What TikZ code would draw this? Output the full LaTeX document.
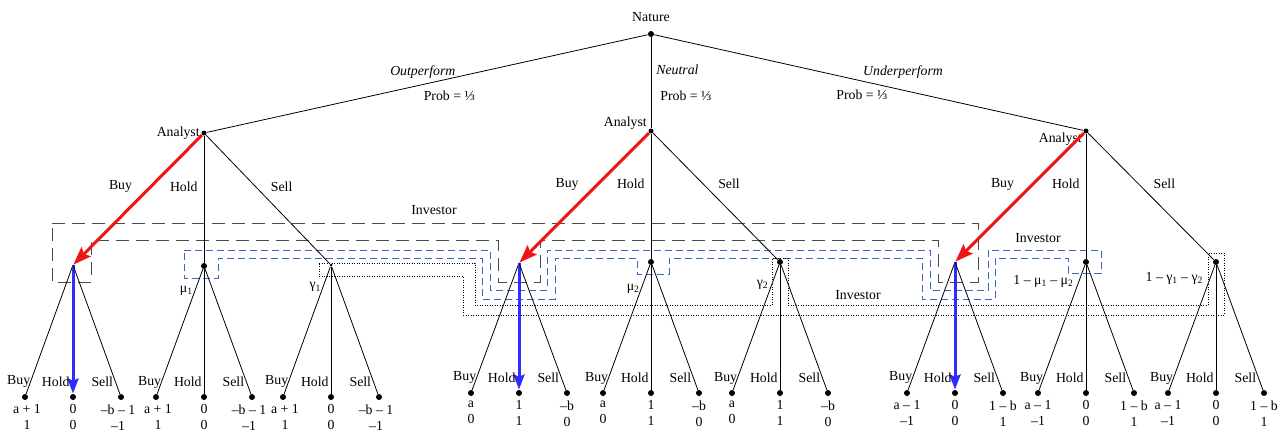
\documentclass[tikz,border=0pt]{standalone}
\usepackage{fontspec}
\setmainfont{Liberation Serif}
\usetikzlibrary{positioning}
\usetikzlibrary{arrows.meta}

\definecolor{movered}{RGB}{240,20,20}
\definecolor{moveblue}{RGB}{45,45,255}
\definecolor{setblue}{RGB}{60,100,195}

\begin{document}
\begin{tikzpicture}[x=1pt,y=-1pt,line width=0.8pt,node distance=48pt,
	font=\fontsize{13.8}{16}\selectfont,
	main node/.style={circle,fill,inner sep=0pt,minimum size=6pt},
	analyst node/.style={main node,minimum size=5pt},
	small node/.style={circle,fill,inner sep=0pt,minimum size=3pt},
	move node/.style={inner sep=0pt,minimum size=0pt},
	red move/.style={-{Stealth[length=18pt,width=13pt,inset=3pt]},draw=movered,line width=3pt},
	blue move/.style={-{Stealth[length=15pt,width=11pt,inset=2pt]},draw=moveblue,line width=3pt},
	long set/.style={draw=black!70,line width=1pt,dash pattern=on 13pt off 7pt},
	blue set/.style={draw=setblue,line width=1pt,dash pattern=on 7pt off 4pt},
	dot set/.style={draw=black,line width=0.8pt,dash pattern=on 1pt off 1.5pt},
	leaf label/.style={pos=0.905,left=2pt,inner sep=0pt},
	payoff/.style={align=center,inner sep=0pt,label distance=4pt},
	belief/.style={yshift=-5pt}]

	\useasboundingbox (0,0) rectangle (1282,431);

	% information sets of the investor
	\draw[long set] (52,223) -- (978,223) -- (978,282) -- (938,282) -- (938,240)
		-- (540,240) -- (540,282) -- (498,282) -- (498,240) -- (91,240)
		-- (91,282) -- (52,282) -- cycle;
	\draw[blue set] (184,250) -- (490,250) -- (490,290) -- (547,290) -- (547,250)
		-- (930,250) -- (930,290) -- (988,290) -- (988,250) -- (1101,250)
		-- (1101,273) -- (1068,273) -- (1068,258) -- (995,258) -- (995,299)
		-- (922,299) -- (922,258) -- (669,258) -- (669,274) -- (637,274)
		-- (637,258) -- (555,258) -- (555,299) -- (482,299) -- (482,258)
		-- (218,258) -- (218,278) -- (184,278) -- cycle;
	\draw[dot set] (319,263) -- (475,263) -- (475,305) -- (772,305) -- (772,258)
		-- (788,258) -- (788,305) -- (1208,305) -- (1208,253) -- (1224,253)
		-- (1224,315) -- (463,315) -- (463,276) -- (319,276) -- cycle;
	\node (inv-long) at (434,210) {Investor};
	\node (inv-blue) at (1038,238) {Investor};
	\node (inv-dot) at (858,295) {Investor};

	% nature and analyst
	\node[main node,label={[label distance=5pt]above:Nature}] (nat) at (651,34) {};
	\node[analyst node,label={[inner sep=1pt]left:Analyst}] (out) at (204,133) {};
	\node[analyst node,label={[inner sep=1pt]171:Analyst}] (neu) at (651,131) {};
	\node[analyst node,label={[inner sep=1pt]195:Analyst}] (und) at (1086,131) {};

	% investor
	\node[move node] (out-b) at (73,265) {};
	\node[main node,label={[belief,label distance=10pt]235:μ\textsubscript{1}}] (out-h) at (204,266) {};
	\node[small node,label={[belief,label distance=9pt]235:γ\textsubscript{1}}] (out-s) at (331,265) {};
	\node[move node] (neu-b) at (519,263) {};
	\node[main node,label={[belief,label distance=12pt]240:μ\textsubscript{2}}] (neu-h) at (651,262) {};
	\node[main node,label={[belief,label distance=9pt]230:γ\textsubscript{2}}] (neu-s) at (780,262) {};
	\node[move node] (und-b) at (955,262) {};
	\node[main node,label={[belief,yshift=-1pt,label distance=6pt]200:1 – μ\textsubscript{1} – μ\textsubscript{2}}] (und-h) at (1086,262) {};
	\node[main node,label={[belief,label distance=6pt]190:1 – γ\textsubscript{1} – γ\textsubscript{2}}] (und-s) at (1216,262) {};

	% outcomes after outperform
	\node[main node,node distance=132pt,label={[payoff]below:{0\\0}}] (out-b-h) [below of=out-b] {};
	\node[main node,label={[payoff,xshift=2pt]below:{a + 1\\1}}] (out-b-b) [left of=out-b-h] {};
	\node[main node,label={[payoff,xshift=-3pt]below:{–b – 1\\–1}}] (out-b-s) [right of=out-b-h] {};
	\node[main node,node distance=131pt,label={[payoff]below:{0\\0}}] (out-h-h) [below of=out-h] {};
	\node[main node,label={[payoff,xshift=2pt]below:{a + 1\\1}}] (out-h-b) [left of=out-h-h] {};
	\node[main node,label={[payoff,xshift=-3pt]below:{–b – 1\\–1}}] (out-h-s) [right of=out-h-h] {};
	\node[main node,node distance=132pt,label={[payoff]below:{0\\0}}] (out-s-h) [below of=out-s] {};
	\node[main node,label={[payoff,xshift=2pt]below:{a + 1\\1}}] (out-s-b) [left of=out-s-h] {};
	\node[main node,label={[payoff,xshift=-3pt]below:{–b – 1\\–1}}] (out-s-s) [right of=out-s-h] {};

	% outcomes after neutral
	\node[main node,node distance=130pt,label={[payoff]below:{1\\1}}] (neu-b-h) [below of=neu-b] {};
	\node[main node,label={[payoff]below:{a\\0}}] (neu-b-b) [left of=neu-b-h] {};
	\node[main node,label={[payoff]below:{–b\\0}}] (neu-b-s) [right of=neu-b-h] {};
	\node[main node,node distance=131pt,label={[payoff]below:{1\\1}}] (neu-h-h) [below of=neu-h] {};
	\node[main node,label={[payoff]below:{a\\0}}] (neu-h-b) [left of=neu-h-h] {};
	\node[main node,label={[payoff]below:{–b\\0}}] (neu-h-s) [right of=neu-h-h] {};
	\node[main node,node distance=131pt,label={[payoff]below:{1\\1}}] (neu-s-h) [below of=neu-s] {};
	\node[main node,label={[payoff]below:{a\\0}}] (neu-s-b) [left of=neu-s-h] {};
	\node[main node,label={[payoff]below:{–b\\0}}] (neu-s-s) [right of=neu-s-h] {};

	% outcomes after underperform
	\node[main node,node distance=131pt,label={[payoff]below:{0\\0}}] (und-b-h) [below of=und-b] {};
	\node[main node,label={[payoff]below:{a – 1\\–1}}] (und-b-b) [left of=und-b-h] {};
	\node[main node,label={[payoff]below:{1 – b\\1}}] (und-b-s) [right of=und-b-h] {};
	\node[main node,node distance=131pt,label={[payoff]below:{0\\0}}] (und-h-h) [below of=und-h] {};
	\node[main node,label={[payoff]below:{a – 1\\–1}}] (und-h-b) [left of=und-h-h] {};
	\node[main node,label={[payoff]below:{1 – b\\1}}] (und-h-s) [right of=und-h-h] {};
	\node[main node,node distance=131pt,label={[payoff]below:{0\\0}}] (und-s-h) [below of=und-s] {};
	\node[main node,label={[payoff]below:{a – 1\\–1}}] (und-s-b) [left of=und-s-h] {};
	\node[main node,label={[payoff]below:{1 – b\\1}}] (und-s-s) [right of=und-s-h] {};

	% nature's draw
	\path[every node/.style={inner sep=0pt}]
	(nat) edge node[pos=0.51,above=6pt] {\textit{Outperform}}
		node[pos=0.45,below=12pt] {Prob = ⅓} (out)
	(nat) edge node[pos=0.36,right=5pt] {\textit{Neutral}}
		node[pos=0.646,right=9pt] {Prob = ⅓} (neu)
	(nat) edge node[pos=0.58,above=11pt] {\textit{Underperform}}
		node[pos=0.484,below=9pt] {Prob = ⅓} (und);

	% analyst's recommendation
	\path[every node/.style={inner sep=0pt}]
	(out) edge[red move] node[pos=0.4,left=17pt] {Buy} (out-b)
	(out) edge node[pos=0.4,left=6pt] {Hold} (out-h)
	(out) edge node[pos=0.4,right=15pt] {Sell} (out-s)
	(neu) edge[red move] node[pos=0.4,left=17pt] {Buy} (neu-b)
	(neu) edge node[pos=0.4,left=6pt] {Hold} (neu-h)
	(neu) edge node[pos=0.4,right=15pt] {Sell} (neu-s)
	(und) edge[red move] node[pos=0.4,left=17pt] {Buy} (und-b)
	(und) edge node[pos=0.4,left=6pt] {Hold} (und-h)
	(und) edge node[pos=0.4,right=15pt] {Sell} (und-s);

	% investor's trade
	\path[every node/.style={leaf label}]
	(out-b) edge node[left=0pt] {Buy} (out-b-b)
	(out-b) edge[blue move] node {Hold} (out-b-h)
	(out-b) edge node {Sell} (out-b-s)
	(out-h) edge node[left=0pt] {Buy} (out-h-b)
	(out-h) edge node {Hold} (out-h-h)
	(out-h) edge node {Sell} (out-h-s)
	(out-s) edge node[left=0pt] {Buy} (out-s-b)
	(out-s) edge node {Hold} (out-s-h)
	(out-s) edge node {Sell} (out-s-s)
	(neu-b) edge node[left=0pt] {Buy} (neu-b-b)
	(neu-b) edge[blue move] node {Hold} (neu-b-h)
	(neu-b) edge node {Sell} (neu-b-s)
	(neu-h) edge node[left=0pt] {Buy} (neu-h-b)
	(neu-h) edge node {Hold} (neu-h-h)
	(neu-h) edge node {Sell} (neu-h-s)
	(neu-s) edge node[left=0pt] {Buy} (neu-s-b)
	(neu-s) edge node {Hold} (neu-s-h)
	(neu-s) edge node {Sell} (neu-s-s)
	(und-b) edge node[left=0pt] {Buy} (und-b-b)
	(und-b) edge[blue move] node {Hold} (und-b-h)
	(und-b) edge node {Sell} (und-b-s)
	(und-h) edge node[left=0pt] {Buy} (und-h-b)
	(und-h) edge node {Hold} (und-h-h)
	(und-h) edge node {Sell} (und-h-s)
	(und-s) edge node[left=0pt] {Buy} (und-s-b)
	(und-s) edge node {Hold} (und-s-h)
	(und-s) edge node {Sell} (und-s-s);
\end{tikzpicture}
\end{document}
